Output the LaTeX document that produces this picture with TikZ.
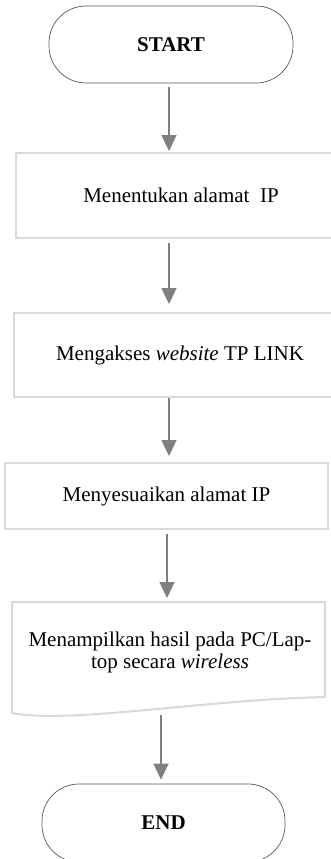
\documentclass[tikz,border=0pt]{standalone}
\usepackage{fontspec}
\setmainfont{Liberation Serif}
\usepackage{tikz}
\usetikzlibrary{arrows.meta,calc,positioning}
\definecolor{Ink}{HTML}{595959}
\definecolor{Frame}{HTML}{D9D9D9}
\definecolor{Arrow}{HTML}{7F7F7F}
\newcommand{\flowfont}{\fontsize{21}{22}\selectfont}

\begin{document}
\begin{tikzpicture}[x=1pt,y=-1pt,
  terminal/.style={draw=Ink,line width=0.7pt,rounded corners=37pt,minimum width=244pt,minimum height=77pt,font=\flowfont\bfseries},
  process/.style={draw=Frame,line width=2pt,minimum height=85pt,font=\flowfont},
  flow/.style={-{Triangle[length=16pt,width=15pt]},color=Arrow,line width=1.3pt,shorten <=4pt,shorten >=4pt}
]
\useasboundingbox (0,0) rectangle (331,859);
\coordinate (spine) at (169,0);

\node[terminal] (start) at (171,44.5) {START};
\node[process,minimum width=330pt] (ipset) at (181,195.5) {Menentukan alamat\ \ IP};
\node[process,minimum width=332pt,minimum height=84pt] (web) at (180,355) {Mengakses \emph{website} TP LINK};
\node[process,minimum width=323pt,minimum height=66pt] (adjust) at (166.5,496) {Menyesuaikan alamat IP};

% document shape
\draw[Frame,line width=2pt] (12,602) -- (325,602) -- (325,697)
  .. controls (200,700) and (70,724) .. (12,713) -- cycle;
\node[font=\flowfont,align=center] (show) at (170,652) {Menampilkan hasil pada PC/Lap-\\top secara \emph{wireless}};
\coordinate (doctop) at (167,602);
\coordinate (docbot) at (161,715);

\node[terminal,minimum width=243pt,minimum height=78pt] (finish) at (163.5,823) {END};

\draw[flow,shorten >=1pt] (start.south -| spine) -- (ipset.north -| spine);
\draw[flow,shorten >=8pt] (ipset.south -| spine) -- (web.north -| spine);
\draw[flow,shorten <=0pt,shorten >=6pt] (web.south -| spine) -- (adjust.north -| spine);
\draw[flow] (adjust.south -| doctop) -- (doctop);
\draw[flow,shorten <=0pt] (docbot) -- (finish.north -| docbot);
\end{tikzpicture}
\end{document}
